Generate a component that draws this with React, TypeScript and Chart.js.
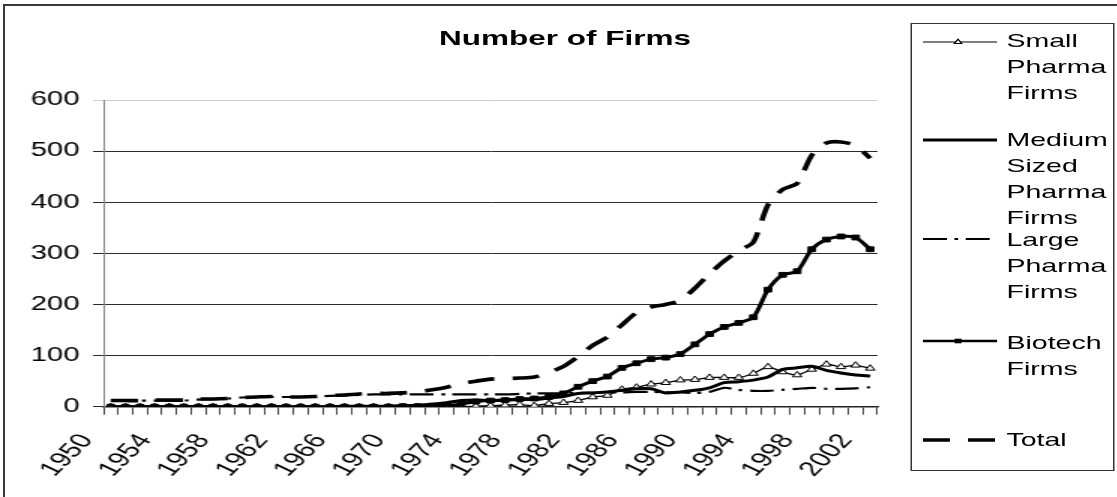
import React, { useEffect, useRef } from "react";
import { Chart, registerables } from "chart.js";

Chart.register(...registerables);

// ---- data ----
const years = [
  "1950", "1951", "1952", "1953", "1954", "1955", "1956", "1957", "1958", "1959",
  "1960", "1961", "1962", "1963", "1964", "1965", "1966", "1967", "1968", "1969",
  "1970", "1971", "1972", "1973", "1974", "1975", "1976", "1977", "1978", "1979",
  "1980", "1981", "1982", "1983", "1984", "1985", "1986", "1987", "1988", "1989",
  "1990", "1991", "1992", "1993", "1994", "1995", "1996", "1997", "1998", "1999",
  "2000", "2001", "2002",
];

const smallPharma = [
  0, 0, 0, 0, 0, 0, 0, 0, 0, 0,
  0, 0, 0, 0, 0, 0, 0, 0, 0, 0,
  0, 0, 0, 0, 0, 1, 2, 3, 4, 2,
  6, 8, 12, 19, 22, 34, 38, 44, 47, 52,
  53, 57, 57, 57, 65, 78, 68, 62, 73, 83,
  78, 81, 75,
];

const mediumPharma = [
  0, 0, 0, 0, 0, 0, 0, 0, 0, 0,
  0, 0, 0, 0, 0, 0, 1, 1, 1, 1,
  2, 3, 5, 8, 12, 13, 12, 13, 14, 14,
  17, 20, 26, 27, 29, 32, 35, 35, 27, 29,
  32, 37, 47, 49, 52, 58, 73, 76, 79, 71,
  66, 62, 60,
];

const largePharma = [
  12, 12, 12, 12, 12, 12, 14, 15, 16, 18,
  19, 19, 19, 19, 20, 21, 22, 23, 24, 24,
  24, 24, 24, 24, 24, 24, 24, 24, 25, 26,
  26, 26, 27, 27, 28, 28, 29, 29, 28, 28,
  27, 29, 37, 33, 31, 31, 33, 35, 37, 35,
  35, 36, 38,
];

const biotech = [
  0, 0, 0, 0, 0, 0, 0, 0, 0, 0,
  0, 0, 0, 0, 0, 0, 0, 0, 0, 0,
  1, 1, 2, 3, 5, 10, 12, 13, 15, 16,
  19, 26, 39, 50, 59, 76, 85, 93, 96, 103,
  122, 142, 156, 164, 175, 229, 258, 265, 308, 327,
  333, 331, 308,
];

const total = [
  12, 12, 12, 13, 13, 13, 15, 15, 16, 18,
  19, 20, 19, 19, 20, 22, 23, 25, 26, 26,
  27, 29, 33, 38, 45, 50, 54, 55, 56, 58,
  67, 79, 98, 120, 136, 160, 184, 195, 200, 208,
  232, 260, 285, 305, 322, 395, 425, 437, 492, 516,
  518, 511, 486,
];

const seriesNames = [
  "Small Pharma Firms",
  "Medium Sized Pharma Firms",
  "Large Pharma Firms",
  "Biotech Firms",
  "Total",
];

const yTicks = [0, 100, 200, 300, 400, 500, 600];

// ---- layout (canvas space, stretched horizontally by S) ----
const S = 1.5;
const CW = 745;
const CH = 497;
const FONT = "'Liberation Sans', Arial, sans-serif";

const legendEntries = [
  { lines: ["Small", "Pharma", "Firms"], textTop: 27.7, sampleY: 42, kind: "small" },
  { lines: ["Medium", "Sized", "Pharma", "Firms"], textTop: 126.7, sampleY: 140, kind: "medium" },
  { lines: ["Large", "Pharma", "Firms"], textTop: 227.2, sampleY: 239, kind: "large" },
  { lines: ["Biotech", "Firms"], textTop: 330.2, sampleY: 341, kind: "biotech" },
  { lines: ["Total"], textTop: 427.2, sampleY: 440, kind: "total" },
];

const LARGE_DASH = [16, 5, 2.5, 5];
const TOTAL_DASH = [18, 12];

function Sample({ kind, y }: { kind: string; y: number }) {
  const x1 = 615.3;
  const x2 = 664.7;
  const cx = 638.7;
  if (kind === "small") {
    return (
      <g>
        <line x1={x1} x2={x2} y1={y} y2={y} stroke="#000" strokeWidth={1.2} />
        <polygon
          points={`${cx},${y - 2.8} ${cx + 2.5},${y + 1.6} ${cx - 2.5},${y + 1.6}`}
          fill="#fff"
          stroke="#000"
          strokeWidth={1}
        />
      </g>
    );
  }
  if (kind === "medium") {
    return <line x1={x1} x2={x2} y1={y} y2={y} stroke="#000" strokeWidth={3} />;
  }
  if (kind === "large") {
    return (
      <line x1={x1} x2={x2} y1={y} y2={y} stroke="#000" strokeWidth={2} strokeDasharray={LARGE_DASH.join(" ")} />
    );
  }
  if (kind === "biotech") {
    return (
      <g>
        <line x1={x1} x2={x2} y1={y} y2={y} stroke="#000" strokeWidth={2.6} />
        <rect x={cx - 2.3} y={y - 2.3} width={4.6} height={4.6} fill="#000" />
      </g>
    );
  }
  return (
    <line x1={x1} x2={x2} y1={y} y2={y} stroke="#000" strokeWidth={3.5} strokeDasharray={TOTAL_DASH.join(" ")} />
  );
}

export default function App() {
  const canvasRef = useRef<HTMLCanvasElement | null>(null);

  useEffect(() => {
    const canvas = canvasRef.current;
    if (!canvas) return;
    const chart = new Chart(canvas, {
      type: "line",
      data: {
        labels: years,
        datasets: [
          {
            label: seriesNames[0],
            data: smallPharma,
            borderColor: "#000",
            borderWidth: 1.3,
            pointStyle: "triangle",
            pointRadius: 3.6,
            pointBackgroundColor: "#fff",
            pointBorderColor: "#000",
            pointBorderWidth: 1,
            tension: 0.25,
            order: 4,
          },
          {
            label: seriesNames[1],
            data: mediumPharma,
            borderColor: "#000",
            borderWidth: 3,
            pointRadius: 0,
            tension: 0.25,
            order: 3,
          },
          {
            label: seriesNames[2],
            data: largePharma,
            borderColor: "#000",
            borderWidth: 2.2,
            borderDash: LARGE_DASH,
            pointRadius: 0,
            tension: 0.25,
            order: 2,
          },
          {
            label: seriesNames[3],
            data: biotech,
            borderColor: "#000",
            borderWidth: 3,
            pointStyle: "rect",
            pointRadius: 3.4,
            pointBackgroundColor: "#000",
            pointBorderColor: "#000",
            pointBorderWidth: 1,
            tension: 0.25,
            order: 1,
          },
          {
            label: seriesNames[4],
            data: total,
            borderColor: "#000",
            borderWidth: 3.6,
            borderDash: TOTAL_DASH,
            pointRadius: 0,
            tension: 0.25,
            order: 0,
          },
        ],
      },
      options: {
        responsive: false,
        maintainAspectRatio: false,
        devicePixelRatio: 1,
        animation: false,
        events: [],
        layout: { padding: { left: 0, right: 160, top: 100, bottom: 0 } },
        plugins: {
          legend: { display: false },
          title: { display: false },
          tooltip: { enabled: false },
        },
        scales: {
          x: {
            type: "category",
            offset: true,
            grid: {
              display: true,
              drawOnChartArea: false,
              drawTicks: true,
              tickLength: 8,
              offset: true,
              color: "#444",
              lineWidth: 1,
            },
            border: { display: true, color: "#222", width: 1.5 },
            ticks: {
              autoSkip: false,
              maxRotation: 55,
              minRotation: 55,
              padding: 15,
              labelOffset: -16,
              color: "#000",
              font: { family: FONT, size: 20.5 },
              callback: (_v: any, i: number) => (i % 4 === 0 ? years[i] : ""),
            },
            afterFit: (axis: any) => {
              axis.height = CH - 406.7;
            },
          },
          y: {
            min: 0,
            max: 600,
            afterBuildTicks: (axis: any) => {
              axis.ticks = yTicks.map((v) => ({ value: v }));
            },
            grid: {
              color: (ctx: any) => (ctx.tick && ctx.tick.value === 600 ? "#cfcfcf" : "#2a2a2a"),
              lineWidth: 1,
              tickLength: 7,
              drawTicks: true,
            },
            border: { display: true, color: "#888", width: 1 },
            ticks: {
              padding: 9,
              color: "#000",
              font: { family: FONT, size: 19.5 },
            },
            afterFit: (axis: any) => {
              axis.width = 69;
            },
          },
        },
      },
    });
    return () => chart.destroy();
  }, []);

  return (
    <div
      style={{
        position: "fixed",
        left: 0,
        top: 0,
        width: 1117,
        height: 497,
        overflow: "hidden",
        background: "#fff",
      }}
    >
      <div
        style={{
          position: "absolute",
          left: 3,
          top: 4,
          width: 1300,
          height: 700,
          borderTop: "2px solid #3a3a3a",
          borderLeft: "2px solid #3a3a3a",
        }}
      />
      <div
        style={{
          position: "absolute",
          left: 0,
          top: 0,
          width: CW,
          height: CH,
          transform: `scaleX(${S})`,
          transformOrigin: "0 0",
        }}
      >
        <canvas ref={canvasRef} width={CW} height={CH} style={{ display: "block", position: "absolute", left: 0, top: 0 }} />
        <div
          style={{
            position: "absolute",
            left: 276.7,
            width: 200,
            top: 27,
            textAlign: "center",
            fontFamily: FONT,
            fontWeight: "bold",
            fontSize: 21,
            lineHeight: "21px",
            color: "#000",
            whiteSpace: "nowrap",
          }}
        >
          Number of Firms
        </div>
        <div
          style={{
            position: "absolute",
            left: 606.7,
            top: 23,
            width: 134.3,
            height: 446,
            border: "1px solid #333",
            background: "transparent",
          }}
        />
        <svg
          width={CW}
          height={CH}
          style={{ position: "absolute", left: 0, top: 0, pointerEvents: "none" }}
        >
          {legendEntries.map((e) => (
            <Sample key={e.kind} kind={e.kind} y={e.sampleY} />
          ))}
        </svg>
        {legendEntries.map((e) => (
          <div
            key={e.kind + "-t"}
            style={{
              position: "absolute",
              left: 671,
              top: e.textTop,
              fontFamily: FONT,
              fontSize: 19,
              lineHeight: "26px",
              color: "#000",
              whiteSpace: "nowrap",
            }}
          >
            {e.lines.map((l, i) => (
              <div key={i}>{l}</div>
            ))}
          </div>
        ))}
      </div>
    </div>
  );
}
